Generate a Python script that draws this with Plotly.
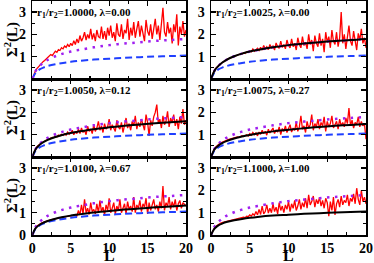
import numpy as np
import plotly.graph_objects as go
from plotly.subplots import make_subplots

# ---------------- data ----------------
L_data = [round(0.2 * i, 1) for i in range(101)]
L_th = [0, 0.25, 0.5, 1, 1.5, 2, 3, 4, 5, 6, 8, 10, 12, 14, 16, 18, 20]

goe = [0, 0.18, 0.30, 0.44, 0.52, 0.58, 0.66, 0.72, 0.77, 0.81, 0.87, 0.91, 0.95, 0.98, 1.01, 1.03, 1.05]
two_goe = [0, 0.22, 0.40, 0.60, 0.75, 0.86, 1.02, 1.14, 1.23, 1.30, 1.42, 1.52, 1.59, 1.65, 1.71, 1.75, 1.80]
th_012 = [0, 0.22, 0.38, 0.56, 0.68, 0.77, 0.90, 1.00, 1.08, 1.14, 1.25, 1.33, 1.40, 1.46, 1.51, 1.56, 1.60]
th_027 = [0, 0.21, 0.36, 0.52, 0.63, 0.71, 0.83, 0.92, 0.99, 1.05, 1.15, 1.22, 1.29, 1.35, 1.40, 1.44, 1.48]
th_067 = [0, 0.20, 0.33, 0.47, 0.56, 0.63, 0.73, 0.81, 0.87, 0.92, 1.01, 1.08, 1.14, 1.19, 1.24, 1.28, 1.32]

red_1 = [0, 0.22, 0.36, 0.47, 0.56, 0.64, 0.70, 0.78, 0.83, 0.90, 0.95,
         1.02, 1.10, 1.05, 1.18, 1.25, 1.20, 1.32, 1.28, 1.40, 1.35,
         1.48, 1.42, 1.55, 1.45, 1.60, 1.50, 1.72, 1.55, 1.80, 1.62,
         1.95, 1.70, 1.85, 2.10, 1.75, 2.00, 1.82, 2.25, 1.78, 2.05,
         1.70, 2.20, 1.90, 1.85, 2.35, 1.80, 2.15, 1.75, 2.30, 1.95,
         2.40, 1.85, 2.10, 1.70, 2.50, 2.00, 1.90, 2.45, 1.80, 2.20,
         2.05, 2.70, 1.75, 2.30, 1.95, 2.55, 1.85, 2.25, 2.60, 1.90,
         2.40, 2.05, 1.70, 2.65, 2.15, 1.95, 2.45, 1.80, 2.35, 2.70,
         2.00, 2.40, 1.75, 2.50, 3.20, 2.10, 1.90, 2.55, 2.05, 2.30,
         1.60, 2.45, 2.10, 2.90, 1.50, 2.35, 2.00, 2.60, 1.90, 2.20]
red_2 = [0, 0.20, 0.37, 0.48, 0.56, 0.62, 0.68, 0.72, 0.78, 0.82, 0.86,
         0.90, 0.93, 0.97, 0.99, 1.03, 1.05, 1.08, 1.10, 1.13, 1.12,
         1.18, 1.15, 1.22, 1.20, 1.26, 1.22, 1.35, 1.25, 1.30, 1.38,
         1.28, 1.42, 1.30, 1.50, 1.35, 1.45, 1.32, 1.55, 1.40, 1.48,
         1.30, 1.62, 1.45, 1.38, 1.70, 1.42, 1.55, 1.35, 1.75, 1.50,
         1.40, 1.80, 1.45, 1.60, 1.30, 1.85, 1.55, 1.40, 1.90, 1.50,
         1.65, 1.35, 2.00, 1.55, 1.75, 1.25, 1.95, 1.60, 1.45, 2.05,
         1.50, 1.80, 1.20, 2.10, 1.65, 1.90, 1.40, 2.20, 1.70, 1.55,
         2.10, 1.45, 1.85, 3.00, 1.60, 2.00, 1.35, 1.95, 2.40, 1.70,
         1.50, 2.15, 1.80, 1.30, 2.05, 1.75, 2.25, 1.60, 1.85, 1.40]
red_3 = [0, 0.20, 0.35, 0.46, 0.54, 0.58, 0.63, 0.68, 0.72, 0.75, 0.78,
         0.82, 0.84, 0.88, 0.87, 0.92, 0.90, 0.98, 0.95, 1.02, 0.97,
         1.05, 0.98, 1.12, 1.02, 1.08, 1.20, 1.00, 1.15, 1.05, 1.25,
         1.05, 1.30, 1.10, 1.20, 1.00, 1.38, 1.15, 1.25, 1.05, 1.45,
         1.15, 1.30, 1.60, 1.20, 1.40, 1.10, 1.50, 1.25, 1.35, 1.70,
         1.20, 1.45, 1.30, 1.15, 1.65, 1.35, 1.25, 1.55, 1.10, 1.45,
         1.75, 1.30, 1.50, 1.20, 1.60, 1.40, 1.85, 1.25, 1.55, 1.35,
         1.70, 1.45, 1.20, 1.90, 1.55, 0.95, 1.65, 1.40, 1.80, 2.00,
         2.35, 1.50, 1.70, 1.30, 1.85, 1.45, 1.60, 2.05, 1.35, 1.75,
         1.55, 1.90, 1.40, 1.70, 1.25, 1.80, 1.50, 2.15, 1.45, 1.65]
red_4 = [0, 0.19, 0.33, 0.44, 0.52, 0.57, 0.62, 0.66, 0.69, 0.72, 0.75,
         0.78, 0.80, 0.82, 0.85, 0.84, 0.88, 0.90, 0.87, 0.93, 0.95,
         0.92, 0.98, 1.00, 0.94, 1.05, 0.98, 1.10, 1.00, 1.08, 0.95,
         1.12, 1.02, 1.20, 1.05, 1.15, 0.98, 1.25, 1.08, 1.18, 1.30,
         1.05, 1.22, 1.12, 1.35, 1.00, 1.28, 1.15, 1.40, 1.10, 1.25,
         1.45, 1.12, 1.30, 1.20, 1.55, 1.15, 1.35, 1.85, 1.25, 1.40,
         1.10, 1.60, 1.30, 1.45, 1.90, 1.20, 1.50, 1.35, 1.70, 1.25,
         1.55, 1.40, 1.80, 1.15, 1.60, 1.35, 1.50, 1.85, 1.30, 1.45,
         1.60, 1.25, 1.70, 1.40, 1.55, 1.35, 1.75, 1.50, 2.20, 1.40,
         1.65, 1.30, 1.55, 1.45, 1.80, 1.35, 1.60, 1.40, 1.50, 0.80]
red_5 = [0, 0.18, 0.30, 0.40, 0.46, 0.50, 0.54, 0.57, 0.60, 0.62, 0.64,
         0.66, 0.68, 0.70, 0.72, 0.73, 0.75, 0.76, 0.78, 0.79, 0.80,
         0.81, 0.82, 0.83, 0.84, 0.85, 0.86, 0.88, 0.92, 0.86, 1.10,
         0.90, 1.35, 0.95, 1.60, 1.00, 1.20, 0.92, 1.45, 1.05, 1.15,
         0.95, 1.40, 1.00, 1.55, 1.05, 1.25, 0.90, 1.35, 1.10, 1.65,
         1.00, 1.20, 1.45, 0.95, 1.30, 1.10, 1.60, 1.00, 1.25, 1.40,
         0.95, 1.50, 1.15, 1.30, 1.05, 1.70, 1.00, 1.35, 1.20, 1.55,
         1.05, 1.40, 1.25, 1.65, 0.95, 1.45, 1.10, 1.30, 1.60, 1.15,
         1.35, 1.05, 1.50, 1.20, 2.20, 1.10, 1.45, 1.30, 1.70, 1.15,
         1.50, 1.25, 1.60, 1.10, 1.40, 1.55, 1.20, 1.45, 1.35, 1.30]
red_6 = [0, 0.18, 0.29, 0.38, 0.44, 0.49, 0.52, 0.55, 0.57, 0.59, 0.61,
         0.63, 0.65, 0.66, 0.68, 0.70, 0.71, 0.72, 0.74, 0.76, 0.78,
         0.80, 0.78, 0.84, 0.82, 0.90, 0.85, 0.95, 0.88, 1.05, 0.90,
         1.15, 0.92, 1.30, 0.95, 1.05, 1.35, 0.98, 1.20, 1.00, 1.40,
         1.05, 1.25, 0.95, 1.45, 1.10, 1.30, 1.00, 1.35, 1.15, 1.50,
         1.05, 1.40, 1.20, 1.55, 1.10, 1.30, 1.60, 1.15, 1.45, 1.25,
         1.65, 1.20, 1.80, 1.35, 1.50, 1.75, 1.25, 1.60, 1.40, 1.70,
         1.30, 1.55, 1.20, 1.65, 1.45, 0.85, 1.50, 1.10, 1.70, 0.90,
         1.40, 1.60, 1.25, 1.75, 1.35, 1.55, 1.45, 1.80, 1.30, 1.65,
         1.50, 1.85, 1.40, 2.10, 1.60, 1.35, 2.00, 1.50, 1.70, 1.40]

labels = ["r<sub>1</sub>/r<sub>2</sub>=1.0000, λ=0.00",
          "r<sub>1</sub>/r<sub>2</sub>=1.0025, λ=0.00",
          "r<sub>1</sub>/r<sub>2</sub>=1.0050, λ=0.12",
          "r<sub>1</sub>/r<sub>2</sub>=1.0075, λ=0.27",
          "r<sub>1</sub>/r<sub>2</sub>=1.0100, λ=0.67",
          "r<sub>1</sub>/r<sub>2</sub>=1.1000, λ=1.00"]

x_ticks = [0, 5, 10, 15, 20]
y_ticks_top = [1, 2, 3]
y_ticks_bottom = [0, 1, 2, 3]

# panel contents: (red, black-theory or None, show blue, show purple)
panels = [
    (red_1, None, True, True),
    (red_2, two_goe, True, True),
    (red_3, th_012, True, True),
    (red_4, th_027, True, True),
    (red_5, th_067, True, True),
    (red_6, goe, False, True),
]

RED = "#ff0000"
BLUE = "#1f3fff"
PURPLE = "#a020f0"
SERIF = "Liberation Serif"

fig = make_subplots(rows=3, cols=2)

for k, (red, black, blue_on, purple_on) in enumerate(panels):
    r = k // 2 + 1
    c = k % 2 + 1
    fig.add_trace(go.Scatter(x=L_data, y=red, mode="lines",
                             line=dict(color=RED, width=1.3)), row=r, col=c)
    if blue_on:
        fig.add_trace(go.Scatter(x=L_th, y=goe, mode="lines", line_shape="spline",
                                 line=dict(color=BLUE, width=2, dash="7px,4px")), row=r, col=c)
    if purple_on:
        fig.add_trace(go.Scatter(x=L_th, y=two_goe, mode="lines", line_shape="spline",
                                 line=dict(color=PURPLE, width=2.5, dash="2.5px,5.5px")), row=r, col=c)
    if black is not None:
        fig.add_trace(go.Scatter(x=L_th, y=black, mode="lines", line_shape="spline",
                                 line=dict(color="black", width=2)), row=r, col=c)

W, H = 374, 263
col_dom = [[32.3 / W, 186 / W], [211 / W, 366 / W]]
row_px = [(1, 79), (79, 157), (157, 235)]
row_dom = [[(H - b) / H, (H - t) / H] for (t, b) in row_px]

tickfont = dict(family=SERIF, size=14, color="black", weight=700)

for k in range(6):
    r = k // 2
    c = k % 2
    idx = k + 1
    xa = "xaxis" if idx == 1 else f"xaxis{idx}"
    ya = "yaxis" if idx == 1 else f"yaxis{idx}"
    bottom = (r == 2)
    yt = y_ticks_bottom if bottom else y_ticks_top
    fig.layout[xa].update(
        domain=col_dom[c], range=[0, 20], showgrid=False, zeroline=False,
        automargin=False,
        showline=True, linecolor="black", linewidth=1.5, mirror="ticks",
        ticks="inside", ticklen=5, tickwidth=1.3, tickcolor="black",
        tickmode="array", tickvals=x_ticks,
        ticktext=[str(v) for v in x_ticks],
        showticklabels=bottom, tickfont=tickfont, ticklabelstandoff=0,
        minor=dict(ticks="inside", ticklen=3, tickwidth=1.2, tickcolor="black",
                   tick0=0, dtick=2.5, showgrid=False),
    )
    fig.layout[ya].update(
        domain=row_dom[r], range=[0, 3.5], showgrid=False, zeroline=False,
        automargin=False,
        showline=True, linecolor="black", linewidth=1.5, mirror="ticks",
        ticks="inside", ticklen=5, tickwidth=1.3, tickcolor="black",
        tickmode="array", tickvals=yt, ticktext=[str(v) for v in yt],
        tickfont=tickfont, ticklabelstandoff=2,
        minor=dict(ticks="inside", ticklen=3, tickwidth=1.2, tickcolor="black",
                   tick0=0, dtick=0.5, showgrid=False),
    )
    xref = "x domain" if idx == 1 else f"x{idx} domain"
    yref = "y domain" if idx == 1 else f"y{idx} domain"
    fig.add_annotation(xref=xref, yref=yref, x=0.02, y=0.85, xanchor="left",
                       yanchor="middle", text=labels[k], showarrow=False,
                       font=dict(family=SERIF, size=11, color="black", weight=700))

# axis titles
for r in range(3):
    t, b = row_px[r]
    fig.add_annotation(xref="paper", yref="paper", x=12 / W, y=(H - (t + b) / 2) / H,
                       xanchor="center", yanchor="middle", textangle=-90,
                       text="Σ<sup>2</sup>(L)", showarrow=False,
                       font=dict(family=SERIF, size=15, color="black", weight=700))
for c in range(2):
    x0, x1 = col_dom[c]
    fig.add_annotation(xref="paper", yref="paper", x=(x0 + x1) / 2, y=(H - 255) / H,
                       xanchor="center", yanchor="middle", text="L", showarrow=False,
                       font=dict(family=SERIF, size=16, color="black", weight=700))

fig.update_layout(width=W, height=H, margin=dict(l=0, r=0, t=0, b=0),
                  paper_bgcolor="white", plot_bgcolor="white", showlegend=False)

fig.write_html("out.html", config={"displayModeBar": False, "staticPlot": True},
               post_script="document.body.style.margin='0';document.body.style.padding='0';")
